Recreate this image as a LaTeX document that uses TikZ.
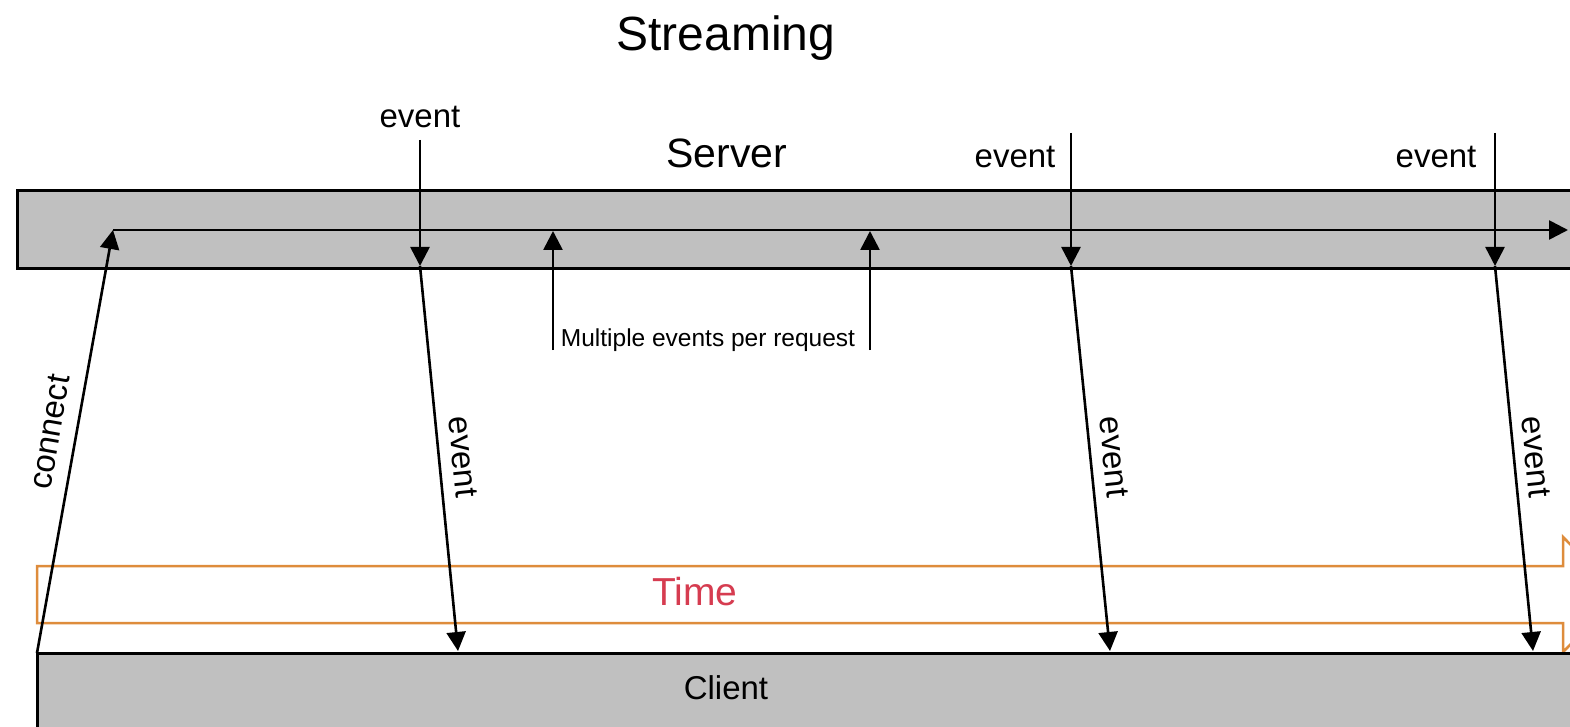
\documentclass[tikz,border=0pt]{standalone}
\usepackage{fontspec}
\setmainfont{Liberation Sans}
\usetikzlibrary{arrows.meta}
\definecolor{bargray}{RGB}{192,192,192}
\definecolor{timeedge}{RGB}{222,140,60}
\definecolor{timetext}{RGB}{214,60,80}
\begin{document}
\begin{tikzpicture}[x=1pt,y=-1pt,
  bar/.style={draw=black,line width=3pt,fill=bargray},
  arr/.style={line width=2.6pt,-{Triangle[length=19pt,width=19pt]}},
  lbl/.style={font=\fontsize{33}{36}\selectfont,inner sep=0pt},
]
\useasboundingbox (0,0) rectangle (1570,727);
\clip (0,0) rectangle (1570,727);
% bars
\path[bar] (17,191) rectangle (1600,268);
\path[draw=timeedge,line width=2.5pt,fill=white] (37,566) -- (1563,566) -- (1563,537) -- (1620,594.5) -- (1563,652) -- (1563,623) -- (37,623) -- cycle;
\path[bar] (37,653) rectangle (1600,760);
% texts
\node[inner sep=0pt,font=\fontsize{48}{52}\selectfont] (title) at (726,38) {Streaming};
\node[inner sep=0pt,font=\fontsize{41}{44}\selectfont] (server) at (727,153) {Server};
\node[inner sep=0pt,font=\fontsize{33}{36}\selectfont] (client) at (726,688) {Client};
\node[inner sep=0pt,font=\fontsize{39}{42}\selectfont,text=timetext] (time) at (695,592) {Time};
\node[lbl] (ev1) at (420,117) {event};
\node[lbl] (ev2) at (1015,157) {event};
\node[lbl] (ev3) at (1436,157) {event};
\node[inner sep=0pt,font=\fontsize{24.5}{28}\selectfont] (multi) at (708,340) {Multiple events per request};
% coordinates
\coordinate (c0) at (37,653);
\coordinate (s0) at (113,230);
\coordinate (s1) at (1568,230);
\coordinate (e1t) at (420,140);
\coordinate (e1) at (420,266);
\coordinate (e1c) at (458,651);
\coordinate (e2t) at (1071,133);
\coordinate (e2) at (1071,266);
\coordinate (e2c) at (1110,651);
\coordinate (e3t) at (1495,133);
\coordinate (e3) at (1495,266);
\coordinate (e3c) at (1533,651);
\coordinate (m1b) at (553,350);
\coordinate (m1) at (553,231);
\coordinate (m2b) at (870,350);
\coordinate (m2) at (870,231);
% connectors
\draw[arr] (c0) -- (s0);
\draw[arr] (s0) -- (s1);
\draw[arr] (e1t) -- (e1);
\draw[arr] (e2t) -- (e2);
\draw[arr] (e3t) -- (e3);
\draw[arr] (e1) -- (e1c);
\draw[arr] (e2) -- (e2c);
\draw[arr] (e3) -- (e3c);
\draw[arr] (m1b) -- (m1);
\draw[arr] (m2b) -- (m2);
% rotated labels
\node[lbl,rotate=80] (con) at (50,432) {connect};
\node[lbl,rotate=-84] (d1) at (463,457) {event};
\node[lbl,rotate=-84] (d2) at (1114,457) {event};
\node[lbl,rotate=-84] (d3) at (1536,457) {event};
\end{tikzpicture}
\end{document}
